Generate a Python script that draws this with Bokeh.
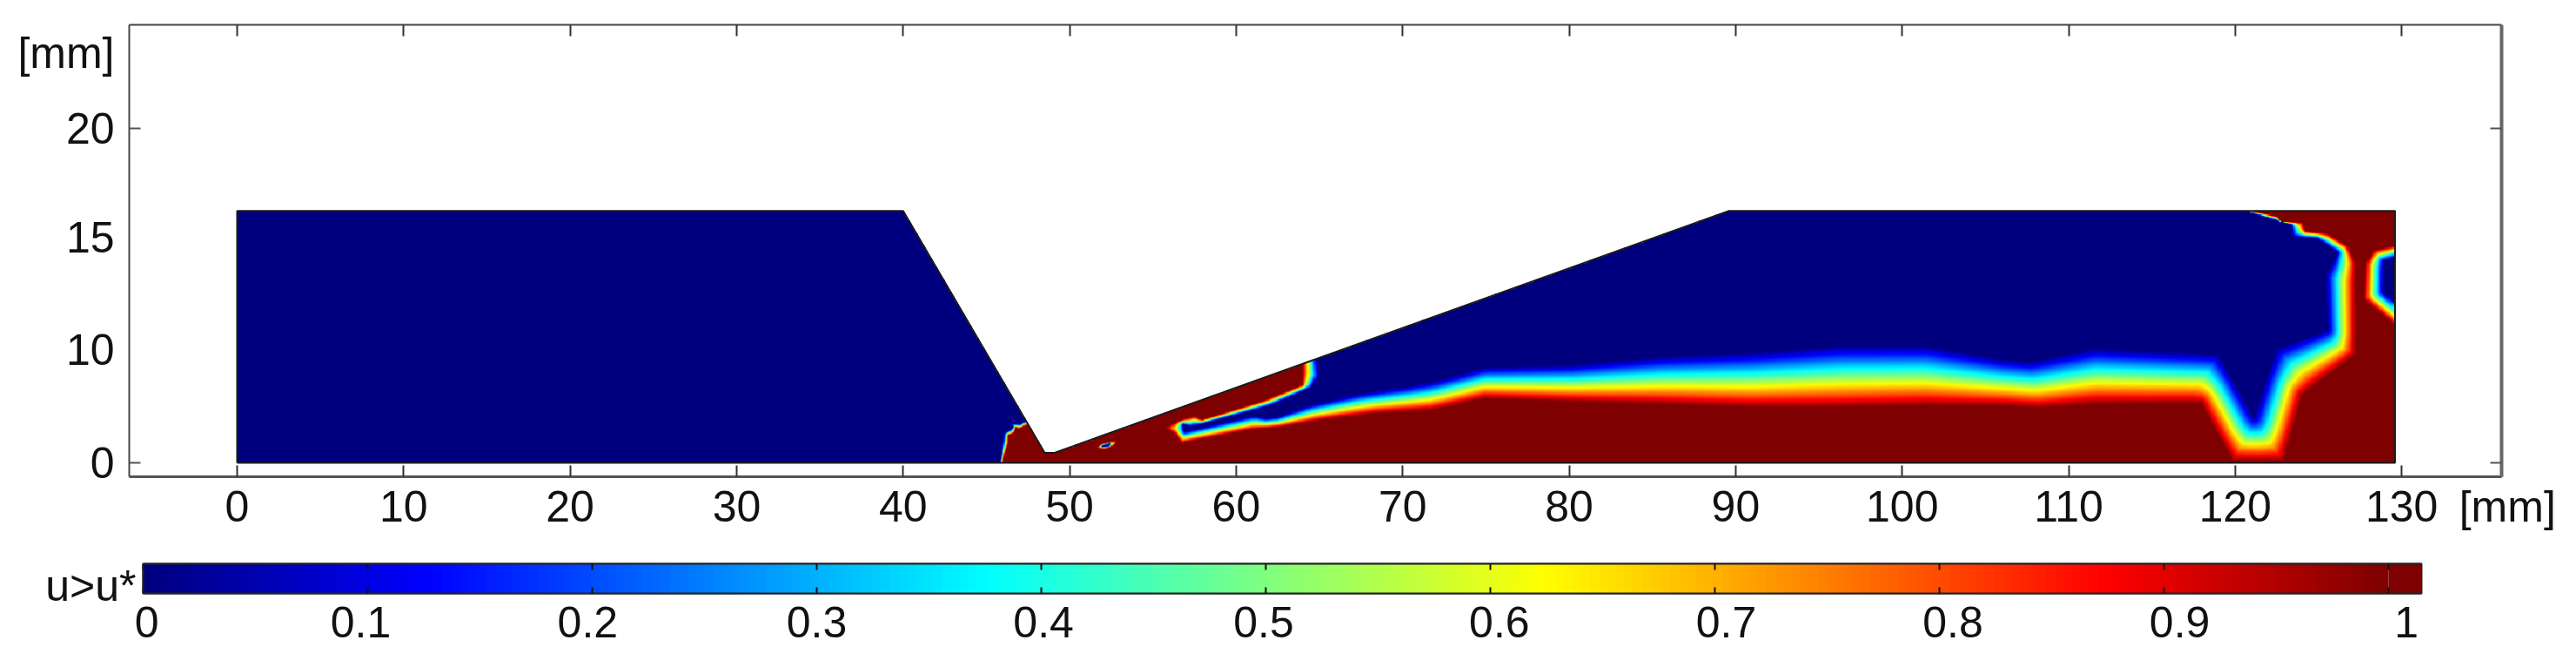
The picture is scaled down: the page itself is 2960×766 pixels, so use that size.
import numpy as np
from bokeh.embed import file_html
from bokeh.resources import INLINE
from bokeh.plotting import figure
from bokeh.layouts import column
from bokeh.models import (FixedTicker, LinearAxis, LinearColorMapper, Range1d)

# ---- axes
x_ticks = [0, 10, 20, 30, 40, 50, 60, 70, 80, 90, 100, 110, 120, 130]
x_unit_pos = 135.99
y_label_pos = [0, 6.72, 13.44, 20, 24.5]
y_label_txt = ["0", "10", "15", "20", "[mm]"]
y_mark_pos = [0, 20]
cb_ticks = [0, 0.1, 0.2, 0.3, 0.4, 0.5, 0.6, 0.7, 0.8, 0.9, 1]
cb_label_pos = [0.0016, 0.0969, 0.198, 0.3, 0.401, 0.499, 0.604, 0.705, 0.806, 0.907, 1.008]
cb_label_txt = ["0", "0.1", "0.2", "0.3", "0.4", "0.5", "0.6", "0.7", "0.8", "0.9", "1"]

# ---- domain outline [mm]
outline_x = [0, 0, 40, 48.5, 49.1, 89.6, 129.6, 129.6, 0]
outline_y = [0, 15.07, 15.07, 0.6, 0.6, 15.07, 15.07, 0, 0]

# ---- u = 1 region (dark red) boundary [mm]
red_x = [46.0, 46.0, 46.1, 46.3, 46.3, 46.67, 46.75, 46.9, 47.45, 48.5, 50, 63.93, 63.93, 61.58, 57.92, 57.49,
         56.7, 55.66, 56.35, 56.67, 60.9, 62.63, 65.07, 68.3, 71.7, 74.9, 80.2, 85.5, 90.9, 96.2, 101.5, 106,
         108.2, 111.5, 117.9, 119.8, 122.9, 124, 127.2, 127.2, 126.7, 125.5, 124.2, 124, 122.7, 122.5, 121.4,
         120.6, 120.6, 140, 140]
red_y = [-1, 0.05, 0.57, 1.18, 1.62, 1.79, 2.14, 2.01, 2.27, 3, 20, 20, 4.65, 3.70, 2.57, 2.80,
         2.57, 2.10, 1.70, 1.18, 1.98, 2.14, 2.55, 2.95, 3.14, 3.84, 3.65, 3.5, 3.3, 3.3, 3.4, 3.4,
         3.26, 3.5, 3.55, 0.1, 0.1, 4.05, 6.48, 12.0, 13.0, 13.7, 13.85, 14.38, 14.43, 14.72, 14.95,
         15.05, 20, 20, -1]
# holes in the u = 1 region
hole1_x = [51.56, 51.91, 52.87, 52.61, 52.09]
hole1_y = [0.885, 1.13, 1.34, 1.01, 0.82]
hole2_x = [130, 128.34, 127.79, 127.68, 130]
hole2_y = [13.08, 12.73, 11.95, 9.78, 7.87]

# ---- u = 0 regions (dark blue) boundaries [mm]
blue1_x = [-1, 45.8, 45.8, 45.9, 46.0, 46.07, 46.4, 46.6, 46.3, 46.67, 47.0, 47.35, 47.9, 48, -1]
blue1_y = [-1, -1, 0.05, 0.57, 1.27, 1.79, 1.96, 2.14, 2.57, 2.31, 2.31, 2.52, 3.0, 20, 20]
blue2_x = [64.72, 64.98, 64.46, 62.1, 60.89, 57.75, 57.23, 56.79, 56.88, 60.89, 61.23, 61.76, 62.45, 64.37, 67.33, 70.3,
           72.04, 74.9, 80.2, 85.5, 90.9, 96.2, 101.5, 106, 107.7, 111.5, 119, 121.1, 122.4, 125.5, 125.4, 126.1,
           124.9, 123.4, 123.4, 122, 120.4, 120.4, 64.72]
blue2_y = [7, 5.17, 4.48, 3.44, 3.09, 2.27, 2.14, 2.27, 1.87, 2.80, 2.80, 2.66, 2.74, 3.44, 4.13, 4.57,
           4.91, 5.7, 5.85, 6.35, 6.6, 7.0, 7.0, 6.2, 6.05, 6.85, 6.5, 2.75, 6.82, 7.95, 11.16, 12.55,
           13.4, 13.5, 14.2, 14.6, 15.1, 20, 20]
blue3_x = [51.91, 52.43, 52.35]
blue3_y = [0.97, 1.18, 1.01]
blue4_x = [130, 128.89, 128.89, 130]
blue4_y = [12.38, 12.03, 10.21, 9.26]

# ---- jet colour map control points
jet_pos = [0, 0.11, 0.125, 0.375, 0.625, 0.875, 1]
jet_r = [0, 0, 0, 0, 255, 255, 127]
jet_g = [0, 0, 0, 255, 255, 0, 0]
jet_b = [127, 240, 255, 255, 0, 0, 0]
_t = np.linspace(0, 1, 256)
palette = ["#%02x%02x%02x" % (int(r), int(g), int(b)) for r, g, b in
           zip(np.interp(_t, jet_pos, jet_r), np.interp(_t, jet_pos, jet_g), np.interp(_t, jet_pos, jet_b))]
mapper = LinearColorMapper(palette=palette, low=0, high=1, nan_color="#00000000")


def ring_field(rings, gx, gy):
    """Distance from the grid to a set of polygon rings; 0 inside (even-odd)."""
    d2 = np.full(gx.shape, np.inf)
    inside = np.zeros(gx.shape, dtype=bool)
    for rx, ry in rings:
        n = len(rx)
        for i in range(n):
            ax, ay, bx, by = rx[i], ry[i], rx[(i + 1) % n], ry[(i + 1) % n]
            dx, dy = bx - ax, by - ay
            t = np.clip(((gx - ax) * dx + (gy - ay) * dy) / (dx * dx + dy * dy), 0, 1)
            d2 = np.minimum(d2, (gx - ax - t * dx) ** 2 + (gy - ay - t * dy) ** 2)
            if ay != by:
                cross = ((ay > gy) != (by > gy)) & (gx < ax + (gy - ay) * dx / dy)
                inside ^= cross
    d = np.sqrt(d2)
    d[inside] = 0
    return d


DW, DH = 129.6, 15.07
xs = np.arange(0, DW, 0.06) + 0.03
ys = np.arange(0, DH, 0.06) + 0.03
gx, gy = np.meshgrid(xs, ys)
gx = gx.astype(np.float32)
gy = gy.astype(np.float32)
d_r = ring_field([(red_x, red_y), (hole1_x, hole1_y), (hole2_x, hole2_y)], gx, gy)
d_b = np.minimum(ring_field([(blue1_x, blue1_y)], gx, gy),
                 np.minimum(ring_field([(blue2_x, blue2_y)], gx, gy),
                            np.minimum(ring_field([(blue3_x, blue3_y)], gx, gy),
                                       ring_field([(blue4_x, blue4_y)], gx, gy))))
field = (d_b / np.maximum(d_b + d_r, 1e-6)).astype(np.float32)
top = np.interp(xs, outline_x[1:7], outline_y[1:7])
field[gy > top[None, :]] = np.nan

FONT = "Liberation Sans"
FS = "50px"

# ---- main panel
p = figure(width=2952, height=640, output_backend="svg", toolbar_location=None,
           x_range=Range1d(-6.48, 136.0), y_range=Range1d(-0.833, 26.2),
           min_border_left=148, min_border_right=78, min_border_top=28, min_border_bottom=93,
           x_axis_location=None, y_axis_location=None, frame_align=False)
p.outline_line_color = None
p.grid.visible = False
p.image(image=[field], x=0, y=0, dw=float(xs[-1] + 0.03), dh=float(ys[-1] + 0.03), color_mapper=mapper)
p.line(outline_x, outline_y, line_color="#1a1a1a", line_width=2)

bottom = LinearAxis(ticker=FixedTicker(ticks=x_ticks + [x_unit_pos]),
                    major_label_overrides={x_unit_pos: "\u00a0[mm]"}, major_tick_in=13, major_tick_out=0,
                    major_label_standoff=6, major_label_text_font=FONT, major_label_text_font_size=FS,
                    major_label_text_color="#111111", axis_line_color="#555555", axis_line_width=3,
                    major_tick_line_color="#333333", major_tick_line_width=2, minor_tick_line_color=None)
p.add_layout(bottom, "below")
topax = LinearAxis(ticker=FixedTicker(ticks=x_ticks), major_tick_in=13, major_tick_out=0,
                   major_label_standoff=0, major_label_text_font_size="1px", major_label_text_color=None,
                   axis_line_color="#444444", axis_line_width=2,
                   major_tick_line_color="#333333", major_tick_line_width=2, minor_tick_line_color=None)
p.add_layout(topax, "above")
left = LinearAxis(ticker=FixedTicker(ticks=y_label_pos, minor_ticks=y_mark_pos),
                  major_label_overrides={k: v for k, v in zip(y_label_pos, y_label_txt)},
                  major_tick_line_color=None, major_tick_in=0, major_tick_out=0,
                  minor_tick_in=13, minor_tick_out=0, minor_tick_line_color="#555555", minor_tick_line_width=2,
                  major_label_standoff=17, major_label_text_font=FONT, major_label_text_font_size=FS,
                  major_label_text_color="#111111", axis_line_color="#444444", axis_line_width=2)
p.add_layout(left, "left")
right = LinearAxis(ticker=FixedTicker(ticks=[], minor_ticks=y_mark_pos), major_tick_line_color=None,
                   major_tick_in=0, major_tick_out=0, minor_tick_in=13, minor_tick_out=0,
                   minor_tick_line_color="#555555", minor_tick_line_width=2,
                   major_label_text_font_size="1px", major_label_text_color=None, major_label_standoff=0,
                   axis_line_color="#666666", axis_line_width=4)
p.add_layout(right, "right")

# ---- colour bar
CB_MAX = 1.0147
cb_name_pos = [0.25]
cb_name_txt = ["u>u*"]
cb = figure(width=2952, height=118, output_backend="svg", toolbar_location=None,
            x_range=Range1d(0, CB_MAX), y_range=Range1d(0, 1),
            min_border_left=164, min_border_right=170, min_border_top=7, min_border_bottom=77,
            x_axis_location=None, y_axis_location=None, frame_align=False)
cb.grid.visible = False
cb.outline_line_color = "#222222"
cb.outline_line_width = 2
cb.image(image=[np.linspace(0, 1, 512, dtype=np.float32)[None, :]], x=0, y=0, dw=1.0, dh=1, color_mapper=mapper)
cb.image(image=[np.array([[1.0, 1.0]], dtype=np.float32)], x=1.0, y=0, dw=CB_MAX - 1.0, dh=1, color_mapper=mapper)
cb_bottom = LinearAxis(ticker=FixedTicker(ticks=cb_label_pos, minor_ticks=cb_ticks),
                       major_label_overrides={k: v for k, v in zip(cb_label_pos, cb_label_txt)},
                       major_tick_line_color=None, major_tick_in=0, major_tick_out=0,
                       minor_tick_in=7, minor_tick_out=0, minor_tick_line_color="#111111", minor_tick_line_width=2,
                       major_label_standoff=15, major_label_text_font=FONT, major_label_text_font_size=FS,
                       major_label_text_color="#111111", axis_line_color="#222222", axis_line_width=2)
cb.add_layout(cb_bottom, "below")
cb_top = LinearAxis(ticker=FixedTicker(ticks=[], minor_ticks=cb_ticks), major_tick_line_color=None,
                    major_tick_in=0, major_tick_out=0, minor_tick_in=7, minor_tick_out=0,
                    minor_tick_line_color="#111111", minor_tick_line_width=2,
                    major_label_text_font_size="1px", major_label_text_color=None, major_label_standoff=0,
                    axis_line_color="#222222", axis_line_width=2)
cb.add_layout(cb_top, "above")
cb_left = LinearAxis(ticker=FixedTicker(ticks=cb_name_pos),
                     major_label_overrides={k: v for k, v in zip(cb_name_pos, cb_name_txt)},
                     major_tick_line_color=None, major_tick_in=0, major_tick_out=0, minor_tick_line_color=None,
                     major_label_standoff=8, major_label_text_font=FONT, major_label_text_font_size=FS,
                     major_label_text_color="#111111", axis_line_color="#222222", axis_line_width=2)
cb.add_layout(cb_left, "left")

layout = column(p, cb, spacing=0)
open("out.html", "w").write(file_html(layout, INLINE))
